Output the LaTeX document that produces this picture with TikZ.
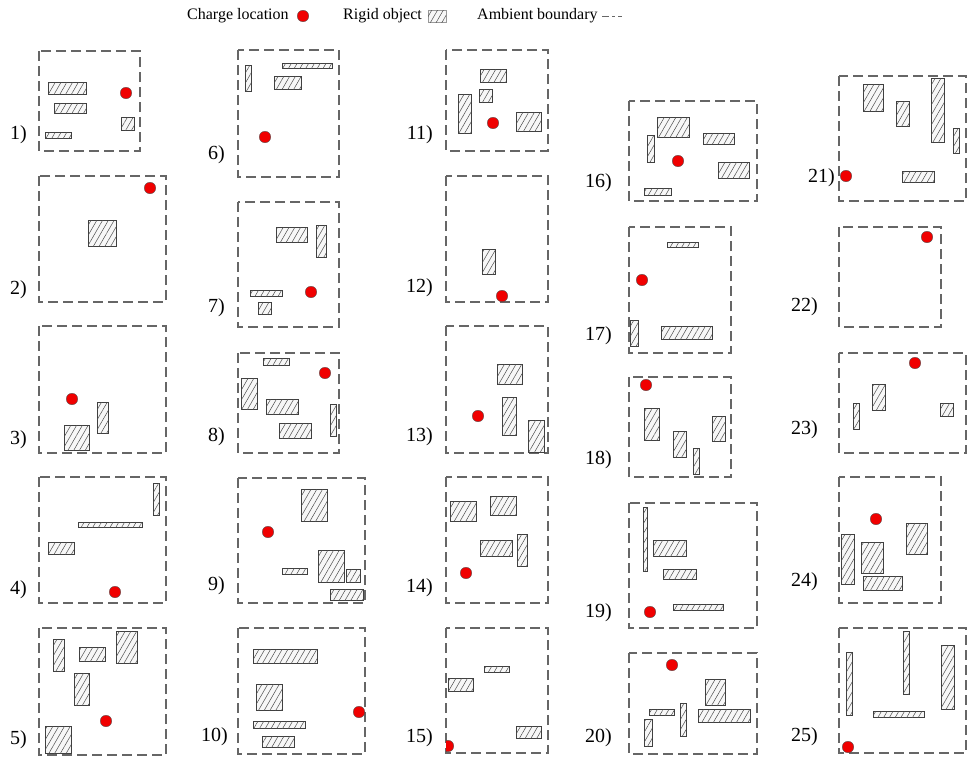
\documentclass[tikz,border=0pt]{standalone}
\usepackage{fontspec}
\setmainfont{Liberation Serif}
\usetikzlibrary{patterns.meta}
\definecolor{charge-red}{HTML}{F00000}
\definecolor{wall-gray}{HTML}{666666}

\begin{document}
\begin{tikzpicture}[x=1pt, y=-1pt,
    ambient/.style={draw=wall-gray, line width=1.1pt, dash pattern=on 10pt off 5pt},
    rigid/.style={draw=black!75, line width=0.75pt, fill=black!3,
        postaction={pattern={Lines[angle=60, distance=5pt, line width=0.5pt]}, pattern color=black!70}},
    charge/.style={circle, draw=black!70, line width=0.35pt, fill=charge-red, minimum size=11.5pt, inner sep=0pt},
    tag/.style={anchor=east, inner sep=0pt, font=\fontsize{20}{24}\selectfont},
    legend/.style={anchor=west, inner sep=0pt, font=\fontsize{16}{19}\selectfont}
]
    \useasboundingbox (0,0) rectangle (967,758);

    % legend
    \node[legend] (lgcharge) at (187,16) {Charge location};
    \node[charge] (lgdot) at (303,16) {};
    \node[legend] (lgrigid) at (343,16) {Rigid object};
    \draw[rigid, draw=black!40] (428,10) rectangle (446,22);
    \node[legend] (lgwall) at (477,16) {Ambient boundary};
    \draw[draw=wall-gray, line width=0.9pt, dash pattern=on 7pt off 3pt on 3pt off 3pt] (602,16) -- (622,16);

    % panel tags
    \foreach \n/\x/\y in {1/27/135, 2/27/290, 3/27/440, 4/27/590, 5/27/740,
                          6/225/155, 7/225/308, 8/225/437, 9/225/586, 10/228/737,
                          11/433/135, 12/433/288, 13/433/437, 14/433/588, 15/433/738,
                          16/612/183, 17/612/336, 18/612/460, 19/612/613, 20/612/738,
                          21/835/178, 22/818/307, 23/818/430, 24/818/582, 25/818/737}
        \node[tag] (tag\n) at (\x,\y) {\n)};

    % column 1
    \draw[ambient] (39,51) rectangle (140,151);
    \draw[rigid] (48,82) rectangle (86,94);
    \draw[rigid] (54,103) rectangle (86,113);
    \draw[rigid] (45,132) rectangle (71,138);
    \draw[rigid] (121,117) rectangle (134,130);
    \node[charge] (q1) at (126,93) {};

    \draw[ambient] (39,176) rectangle (166,302);
    \draw[rigid] (88,220) rectangle (116,246);
    \node[charge] (q2) at (150,188) {};

    \draw[ambient] (39,326) rectangle (166,453);
    \draw[rigid] (64,425) rectangle (89,450);
    \draw[rigid] (97,402) rectangle (108,433);
    \node[charge] (q3) at (72,399) {};

    \draw[ambient] (39,477) rectangle (166,603);
    \draw[rigid] (153,483) rectangle (159,515);
    \draw[rigid] (78,522) rectangle (142,527);
    \draw[rigid] (48,542) rectangle (74,554);
    \node[charge] (q4) at (115,592) {};

    \draw[ambient] (39,628) rectangle (166,755);
    \draw[rigid] (53,639) rectangle (64,671);
    \draw[rigid] (79,647) rectangle (105,661);
    \draw[rigid] (116,631) rectangle (137,663);
    \draw[rigid] (74,673) rectangle (89,705);
    \draw[rigid] (45,726) rectangle (71,753);
    \node[charge] (q5) at (106,721) {};

    % column 2
    \draw[ambient] (238,50) rectangle (339,177);
    \draw[rigid] (245,65) rectangle (251,91);
    \draw[rigid] (282,63) rectangle (332,68);
    \draw[rigid] (274,76) rectangle (301,89);
    \node[charge] (q6) at (265,137) {};

    \draw[ambient] (238,202) rectangle (339,327);
    \draw[rigid] (276,227) rectangle (307,242);
    \draw[rigid] (316,225) rectangle (326,257);
    \draw[rigid] (250,290) rectangle (282,296);
    \draw[rigid] (258,302) rectangle (271,314);
    \node[charge] (q7) at (311,292) {};

    \draw[ambient] (238,353) rectangle (339,453);
    \draw[rigid] (263,358) rectangle (289,365);
    \draw[rigid] (241,378) rectangle (257,409);
    \draw[rigid] (266,399) rectangle (298,414);
    \draw[rigid] (279,423) rectangle (311,438);
    \draw[rigid] (330,404) rectangle (336,436);
    \node[charge] (q8) at (325,373) {};

    \draw[ambient] (238,478) rectangle (365,603);
    \draw[rigid] (301,489) rectangle (327,521);
    \draw[rigid] (318,550) rectangle (344,582);
    \draw[rigid] (346,569) rectangle (360,582);
    \draw[rigid] (282,568) rectangle (307,574);
    \draw[rigid] (330,589) rectangle (363,600);
    \node[charge] (q9) at (268,532) {};

    \draw[ambient] (238,628) rectangle (365,754);
    \draw[rigid] (253,649) rectangle (317,663);
    \draw[rigid] (256,684) rectangle (282,710);
    \draw[rigid] (253,721) rectangle (305,728);
    \draw[rigid] (262,736) rectangle (294,747);
    \node[charge] (q10) at (359,712) {};

    % column 3
    \draw[ambient] (446,50) rectangle (548,151);
    \draw[rigid] (480,69) rectangle (506,82);
    \draw[rigid] (479,89) rectangle (492,102);
    \draw[rigid] (458,94) rectangle (471,133);
    \draw[rigid] (516,112) rectangle (541,131);
    \node[charge] (q11) at (493,123) {};

    \draw[ambient] (446,176) rectangle (548,302);
    \draw[rigid] (482,249) rectangle (495,274);
    \node[charge] (q12) at (502,296) {};

    \draw[ambient] (446,326) rectangle (548,453);
    \draw[rigid] (497,364) rectangle (522,384);
    \draw[rigid] (502,397) rectangle (516,435);
    \draw[rigid] (528,420) rectangle (544,452);
    \node[charge] (q13) at (478,416) {};

    \draw[ambient] (446,477) rectangle (548,603);
    \draw[rigid] (450,501) rectangle (476,521);
    \draw[rigid] (490,496) rectangle (516,515);
    \draw[rigid] (480,540) rectangle (512,556);
    \draw[rigid] (517,534) rectangle (527,566);
    \node[charge] (q14) at (466,573) {};

    \draw[ambient] (446,628) rectangle (548,753);
    \draw[rigid] (484,666) rectangle (509,672);
    \draw[rigid] (448,678) rectangle (473,691);
    \draw[rigid] (516,726) rectangle (541,738);
    \begin{scope}
        \clip (446,628) rectangle (548,753);
        \node[charge] (q15) at (448,746) {};
    \end{scope}

    % column 4
    \draw[ambient] (629,101) rectangle (757,201);
    \draw[rigid] (657,117) rectangle (689,137);
    \draw[rigid] (703,133) rectangle (734,144);
    \draw[rigid] (647,135) rectangle (654,162);
    \draw[rigid] (718,162) rectangle (749,178);
    \draw[rigid] (644,188) rectangle (671,195);
    \node[charge] (q16) at (678,161) {};

    \draw[ambient] (629,227) rectangle (731,353);
    \draw[rigid] (667,242) rectangle (698,247);
    \draw[rigid] (630,320) rectangle (638,346);
    \draw[rigid] (661,326) rectangle (712,339);
    \node[charge] (q17) at (642,280) {};

    \draw[ambient] (629,377) rectangle (731,477);
    \draw[rigid] (644,408) rectangle (659,440);
    \draw[rigid] (673,431) rectangle (686,457);
    \draw[rigid] (693,448) rectangle (699,474);
    \draw[rigid] (712,416) rectangle (725,441);
    \node[charge] (q18) at (646,385) {};

    \draw[ambient] (629,503) rectangle (757,628);
    \draw[rigid] (643,507) rectangle (647,571);
    \draw[rigid] (653,540) rectangle (686,556);
    \draw[rigid] (663,569) rectangle (696,579);
    \draw[rigid] (673,604) rectangle (723,610);
    \node[charge] (q19) at (650,612) {};

    \draw[ambient] (629,653) rectangle (757,754);
    \draw[rigid] (705,679) rectangle (725,705);
    \draw[rigid] (698,709) rectangle (750,722);
    \draw[rigid] (649,709) rectangle (674,715);
    \draw[rigid] (680,703) rectangle (686,736);
    \draw[rigid] (644,719) rectangle (652,746);
    \node[charge] (q20) at (672,665) {};

    % column 5
    \draw[ambient] (839,76) rectangle (966,201);
    \draw[rigid] (863,84) rectangle (883,111);
    \draw[rigid] (896,101) rectangle (909,126);
    \draw[rigid] (931,78) rectangle (944,142);
    \draw[rigid] (953,128) rectangle (959,153);
    \draw[rigid] (902,171) rectangle (934,182);
    \node[charge] (q21) at (846,176) {};

    \draw[ambient] (839,227) rectangle (941,327);
    \node[charge] (q22) at (927,237) {};

    \draw[ambient] (839,353) rectangle (966,453);
    \draw[rigid] (872,384) rectangle (885,410);
    \draw[rigid] (853,403) rectangle (859,429);
    \draw[rigid] (940,403) rectangle (953,416);
    \node[charge] (q23) at (915,363) {};

    \draw[ambient] (839,477) rectangle (941,603);
    \draw[rigid] (841,534) rectangle (854,584);
    \draw[rigid] (861,542) rectangle (883,573);
    \draw[rigid] (906,523) rectangle (927,554);
    \draw[rigid] (863,576) rectangle (902,590);
    \node[charge] (q24) at (876,519) {};

    \draw[ambient] (839,628) rectangle (966,753);
    \draw[rigid] (846,652) rectangle (852,715);
    \draw[rigid] (903,631) rectangle (909,694);
    \draw[rigid] (941,645) rectangle (954,709);
    \draw[rigid] (873,711) rectangle (924,717);
    \node[charge] (q25) at (848,747) {};
\end{tikzpicture}
\end{document}
